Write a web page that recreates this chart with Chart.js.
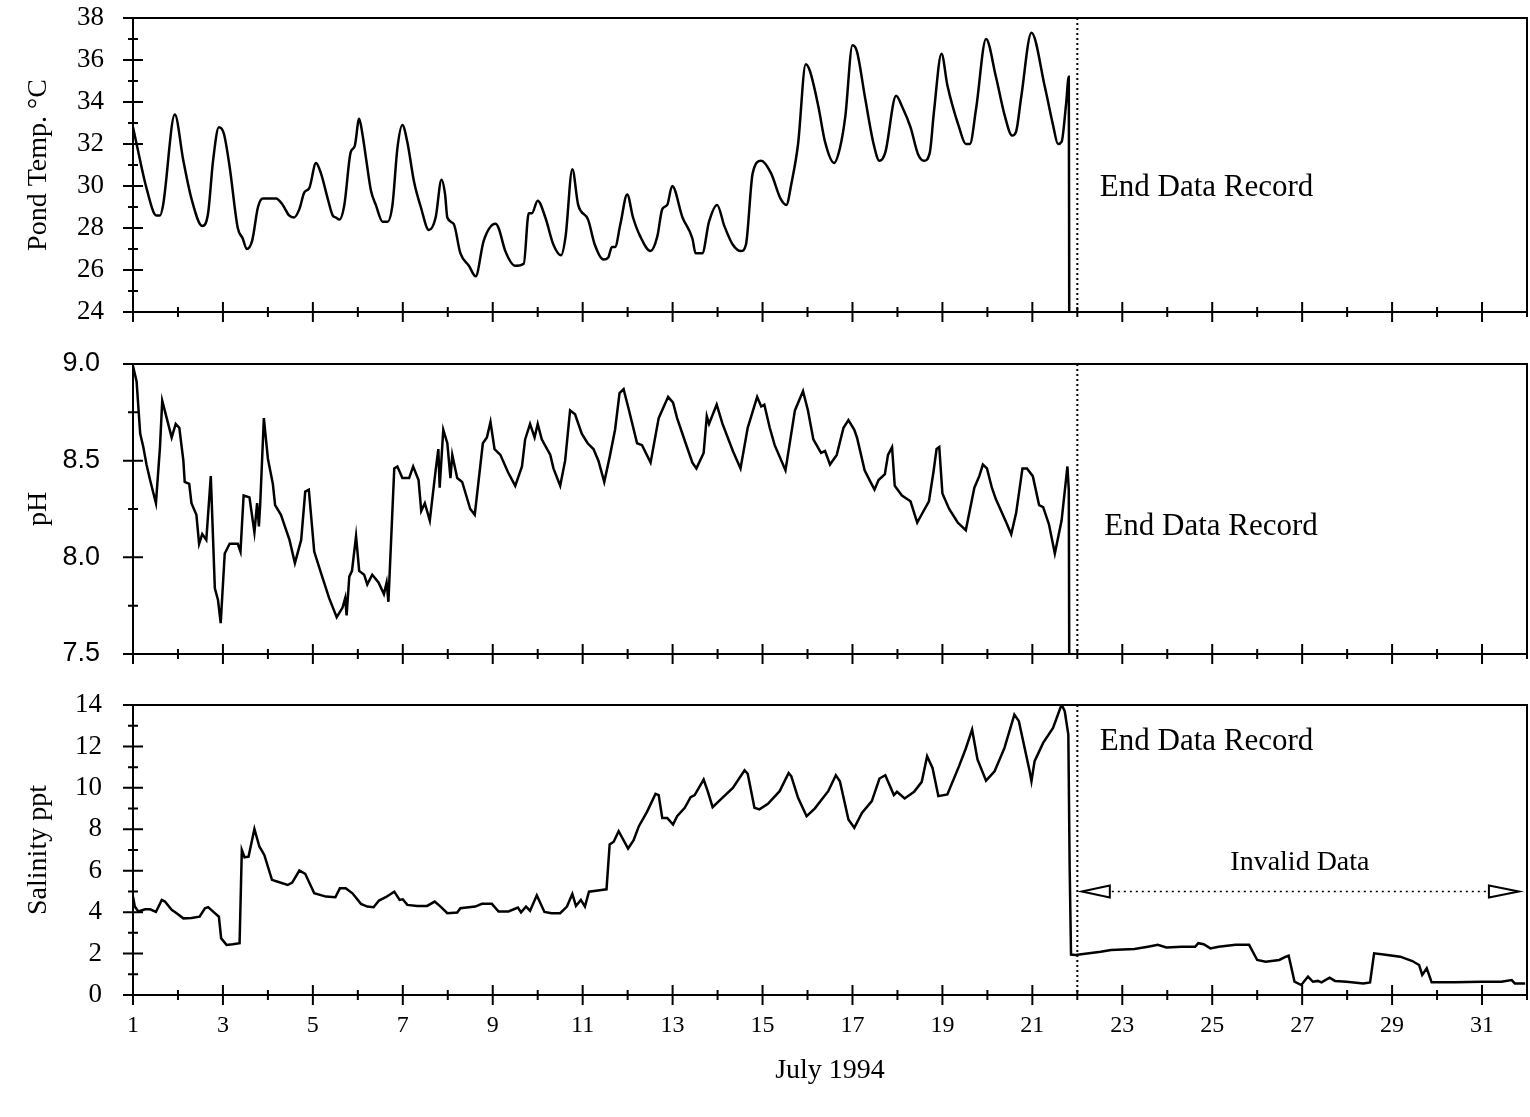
<!DOCTYPE html>
<html>
<head>
<meta charset="utf-8">
<script src="https://cdn.jsdelivr.net/npm/chart.js@4"></script>
<style>
  body { margin: 0; background: #fff; }
  #wrap { position: relative; width: 1530px; height: 1117px; }
  canvas { position: absolute; left: 0; }
</style>
</head>
<body>
<div id="wrap">
  <canvas id="tempChart" width="1530" height="330" style="top:0px"></canvas>
  <canvas id="phChart" width="1530" height="330" style="top:340px"></canvas>
  <canvas id="salChart" width="1530" height="437" style="top:680px"></canvas>
</div>
<script>
// July 1994, day of month (decimal) and readings
const tempDays = [1.00,1.08,1.30,1.52,1.60,1.67,1.93,2.12,2.30,2.54,2.67,2.78,2.91,3.02,3.15,3.33,3.44,3.53,3.65,3.78,3.89,4.18,4.33,4.47,4.58,4.70,4.81,4.92,5.07,5.18,5.33,5.44,5.51,5.59,5.70,5.84,5.93,6.03,6.10,6.19,6.29,6.40,6.55,6.66,6.77,6.88,6.99,7.10,7.25,7.40,7.58,7.73,7.86,7.94,7.99,8.13,8.28,8.47,8.62,8.80,9.06,9.13,9.28,9.50,9.69,9.80,9.87,10.00,10.17,10.35,10.52,10.62,10.77,10.90,11.12,11.27,11.46,11.57,11.65,11.72,11.84,11.99,12.12,12.28,12.51,12.66,12.77,12.88,12.99,13.22,13.44,13.51,13.66,13.81,13.99,14.15,14.34,14.52,14.63,14.78,14.97,15.19,15.40,15.53,15.64,15.79,15.96,16.05,16.24,16.39,16.59,16.72,16.84,17.00,17.10,17.28,17.47,17.60,17.73,17.97,18.10,18.29,18.46,18.59,18.72,18.81,18.98,19.11,19.37,19.52,19.61,19.75,19.97,20.19,20.38,20.55,20.64,20.75,20.98,21.28,21.46,21.57,21.65,21.75,21.81,21.82];
const tempVals = [32.8,32.0,29.9,28.6,28.6,29.1,33.4,31.2,29.4,28.1,28.7,31.2,32.8,32.5,30.9,28.0,27.5,27.0,27.4,29.0,29.4,29.4,29.1,28.6,28.5,28.9,29.7,29.9,31.1,30.6,29.4,28.6,28.5,28.4,29.1,31.6,31.9,33.2,32.5,31.2,29.8,29.1,28.3,28.3,29.1,31.8,32.9,32.1,30.2,29.0,27.9,28.5,30.3,29.6,28.5,28.2,26.8,26.2,25.7,27.4,28.2,28.0,26.9,26.2,26.3,28.7,28.7,29.3,28.5,27.2,26.7,27.6,30.8,29.1,28.4,27.2,26.5,26.6,27.1,27.1,28.2,29.6,28.5,27.6,26.9,27.6,28.9,29.1,30.0,28.5,27.5,26.8,26.8,28.3,29.1,28.1,27.2,26.9,27.2,30.6,31.2,30.6,29.4,29.1,30.1,32.0,35.8,35.5,33.8,32.1,31.1,31.8,33.3,36.7,36.4,34.2,32.0,31.2,31.6,34.3,33.8,32.8,31.5,31.2,31.6,33.5,36.3,34.8,32.8,32.0,32.0,33.7,37.0,35.2,33.4,32.4,32.6,34.2,37.3,34.7,32.9,32.0,32.1,33.9,35.2,24.0];

const phDays = [1.00,1.08,1.16,1.23,1.30,1.38,1.51,1.60,1.65,1.75,1.86,1.95,2.03,2.12,2.15,2.25,2.30,2.41,2.47,2.54,2.63,2.73,2.82,2.89,2.95,3.04,3.15,3.33,3.39,3.46,3.59,3.70,3.76,3.80,3.83,3.91,4.00,4.11,4.16,4.29,4.48,4.60,4.74,4.83,4.91,5.03,5.18,5.36,5.53,5.66,5.72,5.75,5.81,5.87,5.96,6.03,6.14,6.21,6.32,6.46,6.58,6.64,6.68,6.81,6.88,6.99,7.14,7.23,7.35,7.41,7.49,7.60,7.73,7.79,7.82,7.90,7.99,8.06,8.10,8.21,8.32,8.50,8.60,8.78,8.87,8.95,9.04,9.17,9.34,9.50,9.65,9.72,9.83,9.93,10.00,10.09,10.28,10.35,10.50,10.61,10.72,10.83,10.98,11.11,11.24,11.35,11.48,11.61,11.72,11.82,11.91,12.02,12.21,12.32,12.51,12.69,12.90,13.01,13.10,13.29,13.44,13.53,13.69,13.76,13.81,13.98,14.11,14.34,14.51,14.67,14.88,14.97,15.04,15.16,15.27,15.51,15.72,15.90,16.01,16.13,16.30,16.39,16.50,16.65,16.80,16.91,17.04,17.10,17.27,17.40,17.49,17.58,17.72,17.79,17.88,17.94,18.10,18.29,18.44,18.51,18.70,18.80,18.87,18.93,19.00,19.15,19.34,19.52,19.71,19.82,19.90,19.99,20.10,20.19,20.42,20.53,20.64,20.78,20.88,21.01,21.15,21.24,21.37,21.50,21.65,21.78,21.81,21.82];
const phVals = [8.99,8.91,8.64,8.57,8.48,8.40,8.28,8.57,8.81,8.72,8.62,8.69,8.67,8.50,8.39,8.38,8.28,8.22,8.07,8.12,8.09,8.42,7.84,7.78,7.66,8.02,8.07,8.07,8.03,8.32,8.31,8.13,8.28,8.16,8.28,8.72,8.51,8.38,8.27,8.22,8.09,7.97,8.09,8.34,8.35,8.03,7.92,7.79,7.69,7.74,7.79,7.70,7.90,7.93,8.11,7.93,7.91,7.86,7.91,7.87,7.81,7.87,7.77,8.46,8.47,8.41,8.41,8.47,8.40,8.24,8.28,8.19,8.45,8.56,8.36,8.66,8.59,8.41,8.53,8.41,8.39,8.25,8.22,8.59,8.62,8.70,8.56,8.53,8.44,8.37,8.47,8.61,8.69,8.62,8.69,8.61,8.53,8.46,8.37,8.50,8.76,8.74,8.64,8.59,8.56,8.50,8.39,8.53,8.66,8.85,8.87,8.77,8.59,8.58,8.49,8.72,8.83,8.80,8.72,8.59,8.49,8.46,8.54,8.73,8.69,8.79,8.69,8.55,8.46,8.67,8.83,8.78,8.79,8.67,8.58,8.45,8.76,8.86,8.76,8.61,8.54,8.55,8.48,8.53,8.67,8.71,8.66,8.62,8.45,8.39,8.35,8.40,8.43,8.53,8.57,8.37,8.32,8.29,8.18,8.21,8.29,8.44,8.56,8.57,8.33,8.25,8.18,8.14,8.36,8.42,8.48,8.46,8.36,8.30,8.18,8.12,8.23,8.46,8.46,8.42,8.27,8.26,8.17,8.02,8.19,8.47,8.35,7.50];

const salDays = [1.00,1.04,1.12,1.27,1.38,1.51,1.64,1.71,1.86,1.97,2.12,2.30,2.48,2.60,2.67,2.82,2.91,2.96,3.08,3.22,3.37,3.42,3.48,3.57,3.70,3.81,3.92,4.09,4.22,4.44,4.54,4.70,4.83,5.03,5.29,5.50,5.60,5.73,5.88,6.07,6.21,6.35,6.47,6.62,6.81,6.93,7.00,7.10,7.32,7.54,7.71,7.84,7.99,8.21,8.28,8.61,8.76,8.98,9.13,9.35,9.56,9.63,9.74,9.83,9.98,10.15,10.31,10.50,10.65,10.77,10.85,10.96,11.05,11.14,11.42,11.53,11.60,11.69,11.80,12.01,12.13,12.25,12.43,12.62,12.69,12.77,12.88,13.01,13.10,13.27,13.40,13.49,13.69,13.78,13.89,14.07,14.34,14.60,14.67,14.82,14.93,15.12,15.38,15.58,15.64,15.79,15.98,16.16,16.46,16.63,16.72,16.91,17.04,17.21,17.43,17.60,17.73,17.92,17.99,18.16,18.37,18.54,18.66,18.78,18.91,19.11,19.37,19.52,19.66,19.78,19.97,20.16,20.38,20.60,20.70,20.94,20.98,21.05,21.24,21.46,21.65,21.72,21.80,21.83,21.86,21.96,22.52,22.75,23.27,23.57,23.79,23.98,24.32,24.62,24.69,24.81,24.96,25.14,25.52,25.82,26.00,26.19,26.49,26.64,26.70,26.83,26.98,27.13,27.24,27.35,27.43,27.61,27.73,27.99,28.36,28.51,28.60,28.81,29.18,29.45,29.60,29.67,29.77,29.88,30.39,30.98,31.43,31.66,31.73,31.96];
const salVals = [4.75,4.27,4.03,4.14,4.14,4.01,4.59,4.51,4.11,3.95,3.70,3.72,3.78,4.19,4.24,3.95,3.78,2.74,2.42,2.45,2.50,7.00,6.65,6.68,8.02,7.17,6.76,5.56,5.47,5.31,5.43,6.01,5.85,4.91,4.75,4.72,5.15,5.15,4.91,4.40,4.27,4.24,4.56,4.72,4.99,4.59,4.62,4.35,4.30,4.30,4.51,4.27,3.95,3.98,4.19,4.27,4.40,4.40,4.03,4.03,4.22,3.99,4.27,4.07,4.81,4.01,3.95,3.95,4.27,4.88,4.30,4.59,4.27,4.99,5.07,5.10,7.27,7.40,7.91,7.07,7.46,8.15,8.84,9.71,9.65,8.55,8.55,8.23,8.63,9.04,9.55,9.65,10.40,9.84,9.07,9.44,10.00,10.85,10.68,9.04,8.96,9.23,9.84,10.72,10.56,9.52,8.63,9.00,9.84,10.61,10.32,8.47,8.07,8.79,9.36,10.45,10.61,9.65,9.81,9.49,9.81,10.29,11.53,10.96,9.60,9.68,11.05,11.90,12.81,11.37,10.35,10.80,11.93,13.54,13.22,10.80,10.32,11.29,12.17,12.89,14.02,13.70,12.57,6.10,1.95,1.93,2.09,2.17,2.22,2.33,2.42,2.29,2.33,2.33,2.50,2.45,2.25,2.33,2.42,2.42,1.69,1.61,1.69,1.85,1.90,0.64,0.48,0.89,0.64,0.68,0.61,0.84,0.68,0.64,0.56,0.61,2.01,1.96,1.85,1.64,1.45,0.97,1.29,0.61,0.61,0.64,0.64,0.72,0.56,0.56];

const xTickLabels = [1,3,5,7,9,11,13,15,17,19,21,23,25,27,29,31];
const endOfRecord = 22;

const serif = 'Liberation Serif';

function pts(days, vals) {
    return days.map((d, i) => ({x: d, y: vals[i]}));
}

// box, crossing tick marks, dotted end-of-record line, notes
const frame = {
    id: 'frame',
    afterDatasetsDraw(chart, args, opts) {
        const ctx = chart.ctx;
        const a = chart.chartArea;
        const x = chart.scales.x, y = chart.scales.y;
        ctx.save();
        ctx.strokeStyle = '#000';
        ctx.lineWidth = 2;
        ctx.strokeRect(a.left, a.top, a.right - a.left, a.bottom - a.top);
        ctx.beginPath();
        for (let d = 1; d <= 32; d++) {
            const px = x.getPixelForValue(d);
            const len = d % 2 ? 10 : 5;
            ctx.moveTo(px, a.bottom - len);
            ctx.lineTo(px, a.bottom + len);
        }
        const n = Math.round((y.max - y.min) / opts.minor);
        for (let i = 0; i <= n; i++) {
            const v = y.min + i * opts.minor;
            const py = y.getPixelForValue(v);
            const len = i % 2 ? 5 : 10;
            ctx.moveTo(a.left - len, py);
            ctx.lineTo(a.left + len, py);
        }
        ctx.stroke();

        ctx.setLineDash([2, 3]);
        ctx.lineWidth = 2;
        ctx.beginPath();
        const ex = x.getPixelForValue(endOfRecord);
        ctx.moveTo(ex, a.top);
        ctx.lineTo(ex, a.bottom);
        ctx.stroke();
        ctx.setLineDash([]);

        ctx.fillStyle = '#000';
        ctx.font = '31px "' + serif + '"';
        ctx.textAlign = 'left';
        ctx.textBaseline = 'middle';
        ctx.fillText('End Data Record', x.getPixelForValue(opts.noteX), y.getPixelForValue(opts.noteY));

        if (opts.invalid) {
            const iy = y.getPixelForValue(5.0);
            const x0 = x.getPixelForValue(22.1), x1 = x.getPixelForValue(31.82);
            ctx.font = '28px "' + serif + '"';
            ctx.textAlign = 'center';
            ctx.fillText('Invalid Data', x.getPixelForValue(26.95), y.getPixelForValue(6.4));
            ctx.lineWidth = 1.5;
            ctx.setLineDash([2, 4]);
            ctx.beginPath();
            ctx.moveTo(x0 + 30, iy);
            ctx.lineTo(x1 - 32, iy);
            ctx.stroke();
            ctx.setLineDash([]);
            ctx.lineWidth = 2;
            ctx.beginPath();
            ctx.moveTo(x0, iy); ctx.lineTo(x0 + 28, iy - 6); ctx.lineTo(x0 + 28, iy + 6); ctx.closePath();
            ctx.moveTo(x1, iy); ctx.lineTo(x1 - 30, iy - 6); ctx.lineTo(x1 - 30, iy + 6); ctx.closePath();
            ctx.stroke();
        }
        ctx.restore();
    }
};

function yAxis(min, max, step, title, tickFont, pad, fmt) {
    return {
        min: min, max: max,
        afterFit: s => { s.width = 133; s.paddingTop = 0; s.paddingBottom = 0; },
        grid: { display: false, drawTicks: false },
        border: { display: false },
        ticks: {
            stepSize: step,
            padding: pad,
            color: '#000',
            font: { family: tickFont, size: 27 },
            callback: fmt || (v => v)
        },
        title: {
            display: true, text: title, color: '#000',
            font: { family: serif, size: 28 },
            padding: { top: 22, bottom: 8 }
        }
    };
}

function xAxis(show) {
    return {
        type: 'linear', min: 1, max: 32,
        display: show,
        afterFit: s => { if (show) s.height = 92; s.paddingLeft = 0; s.paddingRight = 0; },
        grid: { display: false, drawTicks: false },
        border: { display: false },
        afterBuildTicks: s => { s.ticks = xTickLabels.map(v => ({value: v})); },
        ticks: {
            autoSkip: false, maxRotation: 0, padding: 16, color: '#000',
            font: { family: serif, size: 24 }
        },
        title: {
            display: true, text: 'July 1994', color: '#000',
            font: { family: serif, size: 28 },
            padding: { top: 10, bottom: 0 }
        }
    };
}

function lineSet(data, smooth) {
    return {
        data: data,
        borderColor: '#000',
        borderWidth: 2.5,
        pointRadius: 0,
        fill: false,
        cubicInterpolationMode: smooth ? 'monotone' : 'default',
        tension: smooth ? 0.4 : 0
    };
}

function makeChart(id, data, smooth, y, pad, frameOpts, showX) {
    return new Chart(document.getElementById(id), {
        type: 'line',
        data: { datasets: [lineSet(data, smooth)] },
        options: {
            responsive: false,
            animation: false,
            layout: { padding: pad },
            plugins: { legend: { display: false }, tooltip: { enabled: false }, frame: frameOpts },
            scales: { x: xAxis(showX), y: y }
        },
        plugins: [frame]
    });
}

makeChart('tempChart', pts(tempDays, tempVals), true,
    yAxis(24, 38, 2, 'Pond Temp. \u00B0C', serif, 29),
    { left: 0, right: 3, top: 18, bottom: 18 },
    { minor: 1, noteX: 22.5, noteY: 29.9 }, false);

makeChart('phChart', pts(phDays, phVals), false,
    yAxis(7.5, 9.0, 0.5, 'pH', 'Liberation Sans', 33, v => v.toFixed(1)),
    { left: 0, right: 3, top: 24, bottom: 16 },
    { minor: 0.25, noteX: 22.6, noteY: 8.16 }, false);

makeChart('salChart', pts(salDays, salVals), false,
    yAxis(0, 14, 2, 'Salinity ppt', serif, 31),
    { left: 0, right: 3, top: 25, bottom: 30 },
    { minor: 1, noteX: 22.5, noteY: 12.2, invalid: true }, true);
</script>
</body>
</html>
